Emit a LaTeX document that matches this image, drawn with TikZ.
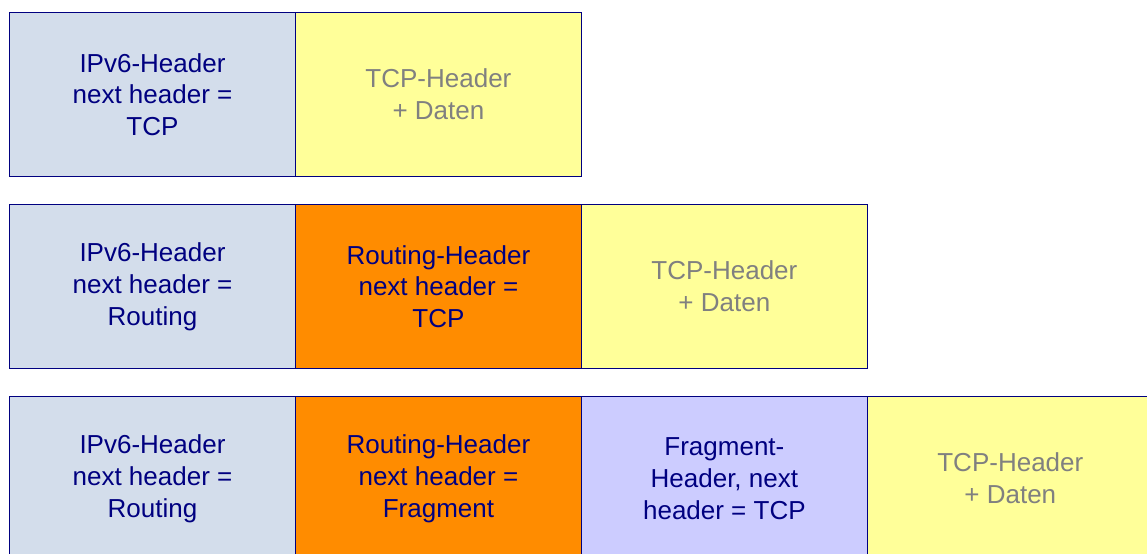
\documentclass[tikz,border=0pt]{standalone}
\usepackage{fontspec}
\setmainfont{Liberation Sans}
\usetikzlibrary{positioning}
\definecolor{ipvfill}{HTML}{D3DDEB}
\definecolor{tcpfill}{HTML}{FFFF99}
\definecolor{routefill}{HTML}{FF8C00}
\definecolor{fragfill}{HTML}{CCCCFF}
\definecolor{navytext}{HTML}{000080}
\definecolor{greytext}{HTML}{808080}

\begin{document}
\begin{tikzpicture}[
        x=0.02cm, y=-0.02cm,
        node distance=-0.6pt,
        box/.style={rectangle, draw=navytext, line width=0.6pt, minimum width=5.72cm, minimum height=3.28cm, inner sep=0pt, align=center, text=navytext, font=\fontsize{14.8}{18.1}\selectfont},
        ipv/.style={box, fill=ipvfill},
        route/.style={box, fill=routefill},
        frag/.style={box, fill=fragfill},
        tcp/.style={box, fill=tcpfill, text=greytext},
    ]
    \useasboundingbox (0,0) rectangle (1147,554);
    \clip (0,0) rectangle (1147,554);
    % Row 1
    \node[ipv, anchor=north west] (ipvA) at (9,12) {IPv6-Header\\next header =\\TCP};
    \node[tcp, right=of ipvA] (tcpA) {TCP-Header\\+ Daten};

    % Row 2
    \node[ipv, below=0.54cm of ipvA] (ipvB) {IPv6-Header\\next header =\\Routing};
    \node[route, right=of ipvB] (routeB) {Routing-Header\\next header =\\TCP};
    \node[tcp, right=of routeB] (tcpB) {TCP-Header\\+ Daten};

    % Row 3
    \node[ipv, below=0.54cm of ipvB] (ipvC) {IPv6-Header\\next header =\\Routing};
    \node[route, right=of ipvC] (routeC) {Routing-Header\\next header =\\Fragment};
    \node[frag, right=of routeC] (fragC) {Fragment-\\Header, next\\header = TCP};
    \node[tcp, right=of fragC] (tcpC) {TCP-Header\\+ Daten};
\end{tikzpicture}
\end{document}
